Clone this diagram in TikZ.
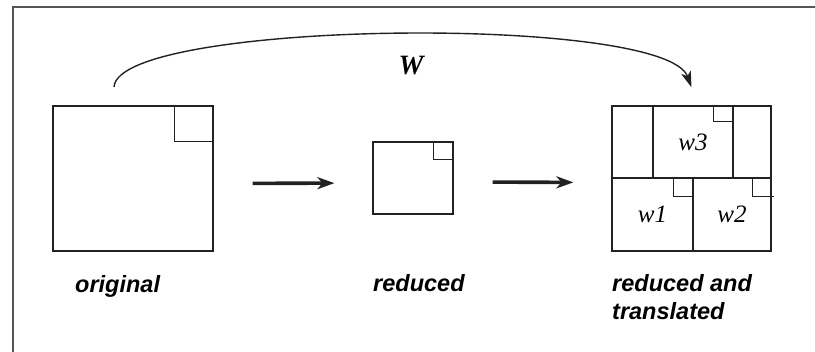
\documentclass[tikz,border=0pt]{standalone}
\usepackage{fontspec}
\setmainfont{Liberation Sans}
\newfontfamily\serifw{Liberation Serif}
\usetikzlibrary{arrows.meta,positioning}
\definecolor{ink}{HTML}{222222}
\definecolor{rim}{HTML}{555555}

\begin{document}
\begin{tikzpicture}[x=1pt, y=-1pt, every node/.style={inner sep=0pt},
  box/.style={draw=ink, line width=1.2pt, minimum width=#1, minimum height=#1},
  part/.style={draw=ink, line width=1.2pt, font=\serifw\itshape\fontsize{25}{28}\selectfont},
  caption/.style={font=\bfseries\itshape\fontsize{23.5}{28}\selectfont, align=left, anchor=base west},
  fat/.style={ink, line width=3.6pt, -{Stealth[length=17pt, width=12pt, inset=5pt]}, shorten <=39pt, shorten >=38pt}]
\useasboundingbox (0,0) rectangle (815,352);
% frame, only top and left edge show
\draw[rim, line width=1.4pt] (13,352) -- (13,7) -- (815,7);
% original and reduced square, each with its corner square
\node[box=160pt, minimum height=145pt] (orig) at (133,178.5) {};
\draw[ink, line width=1.2pt] (orig.north east) ++(-39,0) -- ++(0,36) -- ++(39,0);
\node[box=80pt, minimum height=72pt] (red) at (413,178) {};
\draw[ink, line width=1.2pt] (red.north east) ++(-20,0) -- ++(0,18) -- ++(20,0);
% reduced and translated copies
\node[box=159pt, minimum height=145pt] (trans) at (691.5,178.5) {};
\node[part, minimum width=80pt, minimum height=72pt] (w3) at (693,142) {w3};
\node[part, minimum width=81pt, minimum height=73pt] (w1) at (652.5,214.5) {w1};
\node[part, minimum width=78pt, minimum height=73pt] (w2) at (732,214.5) {w2};
\draw[ink, line width=1.2pt] (trans.west |- w1.north) -- ++(161,0);
\draw[ink, line width=1.2pt] (w3.north east) ++(-20,0) -- ++(0,16) -- ++(20,0);
\draw[ink, line width=1.2pt] (w1.north east) ++(-20,0) -- ++(0,19) -- ++(20,0);
\draw[ink, line width=1.2pt] (w2.north east) ++(-19,0) -- ++(0,19) -- ++(21,0);
% arrows
\draw[fat] ([yshift=-5pt]orig.east) -- ([yshift=-5pt]red.west);
\draw[fat] ([yshift=-4pt]red.east) -- ([yshift=-4pt]trans.west);
\coordinate (wfrom) at (114,87);
\coordinate (wto) at ([yshift=18pt]trans.north);
\draw[ink, line width=1.4pt, -{Stealth[length=16pt, width=10pt, inset=4pt]}] (wfrom) .. controls (118,20) and (665,14) .. (wto);
\node[font=\serifw\bfseries\itshape\fontsize{28}{30}\selectfont] (wlab) at (411,66) {W};
% captions
\node[caption] (lorig) at (75,293) {original};
\node[caption] (lred) at (373,292) {reduced};
\node[caption] (ltrans) at (612,320) {reduced and\\translated};
\end{tikzpicture}
\end{document}
